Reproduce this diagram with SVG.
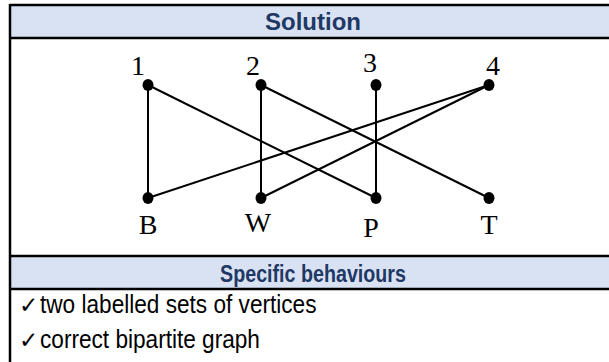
<svg xmlns="http://www.w3.org/2000/svg" width="609" height="362" viewBox="0 0 609 362">
<style>
.hdr{fill:#D9E2F3}
.rule{stroke:#000;stroke-width:2.5;fill:none}
.ht{font-family:"Liberation Sans",Arial,sans-serif;font-weight:bold;fill:#1F3864;text-anchor:middle}
.bt{font-family:"Liberation Sans",Arial,sans-serif;font-size:26px;fill:#000}
.ck{font-family:"DejaVu Sans",sans-serif;font-size:23px;fill:#000}
.lbl{font-family:"Liberation Serif","DejaVu Serif",serif;font-size:28px;fill:#000;text-anchor:middle}
.edge{stroke:#000;stroke-width:2;fill:none}
.dot{fill:#000}
</style>
<g id="table">
<rect class="hdr" x="10" y="5" width="599" height="33"/>
<rect class="hdr" x="10" y="256" width="599" height="33"/>
<line class="rule" x1="10" y1="5" x2="609" y2="5"/>
<line class="rule" x1="10" y1="38" x2="609" y2="38"/>
<line class="rule" x1="10" y1="256" x2="609" y2="256"/>
<line class="rule" x1="10" y1="289" x2="609" y2="289"/>
<line class="rule" x1="10" y1="4" x2="10" y2="362"/>
<text class="ht" font-size="24" x="313" y="30">Solution</text>
<text class="ht" font-size="24" transform="translate(313,282) scale(0.82,1)" x="0" y="0">Specific behaviours</text>
<text class="ck" x="19" y="313">✓</text>
<text class="bt" transform="translate(40,313) scale(0.87,1)" x="0" y="0">two labelled sets of vertices</text>
<text class="ck" x="19" y="348">✓</text>
<text class="bt" transform="translate(40,348) scale(0.87,1)" x="0" y="0">correct bipartite graph</text>
</g>
<g id="connectors">
<line class="edge" x1="148" y1="85" x2="148" y2="198"/>
<line class="edge" x1="148" y1="85" x2="376" y2="198"/>
<line class="edge" x1="261" y1="85" x2="261" y2="198"/>
<line class="edge" x1="261" y1="85" x2="489" y2="198"/>
<line class="edge" x1="376" y1="85" x2="376" y2="198"/>
<line class="edge" x1="489" y1="85" x2="148" y2="198"/>
<line class="edge" x1="489" y1="85" x2="261" y2="198"/>
</g>
<g id="n1"><ellipse class="dot" cx="148" cy="85" rx="5.5" ry="6"/><text class="lbl" x="138" y="75">1</text></g>
<g id="n2"><ellipse class="dot" cx="261" cy="85" rx="5.5" ry="6"/><text class="lbl" x="253" y="75">2</text></g>
<g id="n3"><ellipse class="dot" cx="376" cy="85" rx="5.5" ry="6"/><text class="lbl" x="370" y="72">3</text></g>
<g id="n4"><ellipse class="dot" cx="489" cy="85" rx="5.5" ry="6"/><text class="lbl" x="493" y="75">4</text></g>
<g id="nB"><ellipse class="dot" cx="148" cy="198" rx="5.5" ry="6"/><text class="lbl" x="148" y="234">B</text></g>
<g id="nW"><ellipse class="dot" cx="261" cy="198" rx="5.5" ry="6"/><text class="lbl" x="258" y="232">W</text></g>
<g id="nP"><ellipse class="dot" cx="376" cy="198" rx="5.5" ry="6"/><text class="lbl" x="371" y="237">P</text></g>
<g id="nT"><ellipse class="dot" cx="489" cy="198" rx="5.5" ry="6"/><text class="lbl" x="489" y="234">T</text></g>
</svg>
